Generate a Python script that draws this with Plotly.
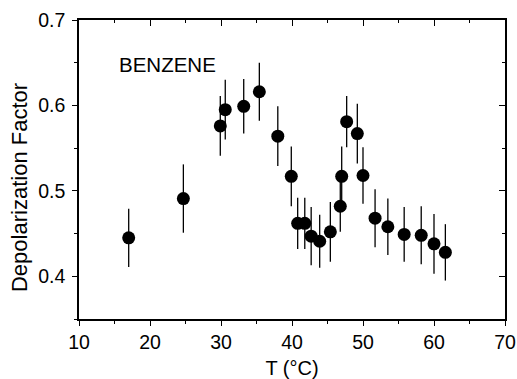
import plotly.graph_objects as go

T = [17.0, 24.7, 29.9, 30.6, 33.2, 35.4, 38.0, 39.9, 40.8, 41.8, 42.7, 43.9, 45.4,
     46.8, 47.0, 47.7, 49.2, 50.0, 51.7, 53.5, 55.8, 58.2, 60.0, 61.6]
D = [0.445, 0.491, 0.576, 0.595, 0.599, 0.616, 0.564, 0.517, 0.462, 0.462, 0.447, 0.441, 0.452,
     0.482, 0.517, 0.581, 0.567, 0.518, 0.468, 0.458, 0.449, 0.448, 0.438, 0.428]
ERR = [0.034, 0.04, 0.035, 0.035, 0.032, 0.034, 0.035, 0.035, 0.03, 0.03, 0.034, 0.031, 0.035,
       0.03, 0.035, 0.03, 0.035, 0.033, 0.034, 0.033, 0.032, 0.034, 0.035, 0.033]

FONT = "Liberation Sans, Arial, sans-serif"

fig = go.Figure()
fig.add_trace(go.Scatter(
    x=T, y=D, mode="markers",
    marker=dict(size=13, color="black"),
    error_y=dict(type="data", array=ERR, visible=True, width=0, thickness=1.3, color="black"),
    showlegend=False,
))
fig.add_trace(go.Scatter(x=[10], y=[0.35], xaxis="x2", yaxis="y2", mode="markers",
                         marker=dict(opacity=0), showlegend=False, hoverinfo="skip"))

fig.add_annotation(x=15.4, y=0.648, text="BENZENE", showarrow=False, xanchor="left",
                   yanchor="middle", font=dict(family=FONT, size=20.5, color="black"))

# y-axis title placed as an annotation to match its vertical position
fig.add_annotation(xref="paper", yref="paper", x=-0.1395, y=0.44, text="Depolarization Factor",
                   textangle=-90, showarrow=False, xanchor="center", yanchor="middle",
                   font=dict(family=FONT, size=22, color="black"))

axis_common = dict(showgrid=False, zeroline=False, linecolor="black", linewidth=1.5,
                   tickcolor="black", tickwidth=1.3, showline=True, automargin=False,
                   tickfont=dict(family=FONT, size=19.5, color="black"))

fig.update_layout(
    width=517, height=379,
    margin=dict(l=78.5, r=12, t=20, b=60),
    paper_bgcolor="white", plot_bgcolor="white",
    xaxis=dict(range=[10, 70], tickvals=[10, 20, 30, 40, 50, 60, 70], ticks="outside", ticklen=5,
               minor=dict(tickvals=[15, 25, 35, 45, 55, 65], ticks="outside", ticklen=3,
                          tickcolor="black"),
               title=dict(text="T (°C)", font=dict(family=FONT, size=20, color="black"), standoff=9),
               **axis_common),
    yaxis=dict(range=[0.35, 0.7], tickvals=[0.4, 0.5, 0.6, 0.7], ticks="outside", ticklen=5,
               tickformat=".1f", ticklabelstandoff=3,
               minor=dict(tickvals=[0.35, 0.45, 0.55, 0.65], ticks="outside", ticklen=3,
                          tickcolor="black"),
               **axis_common),
    xaxis2=dict(range=[10, 70], overlaying="x", side="top", anchor="y2",
                tickvals=[10, 20, 30, 40, 50, 60, 70], ticks="inside", ticklen=6,
                minor=dict(tickvals=[15, 25, 35, 45, 55, 65], ticks="inside", ticklen=3,
                           tickcolor="black"),
                showticklabels=False, **axis_common),
    yaxis2=dict(range=[0.35, 0.7], overlaying="y", side="right", anchor="x2",
                tickvals=[0.4, 0.5, 0.6, 0.7], ticks="inside", ticklen=6,
                minor=dict(tickvals=[0.45, 0.55, 0.65], ticks="inside", ticklen=3,
                           tickcolor="black"),
                showticklabels=False, **axis_common),
)

fig.write_html("out.html")
